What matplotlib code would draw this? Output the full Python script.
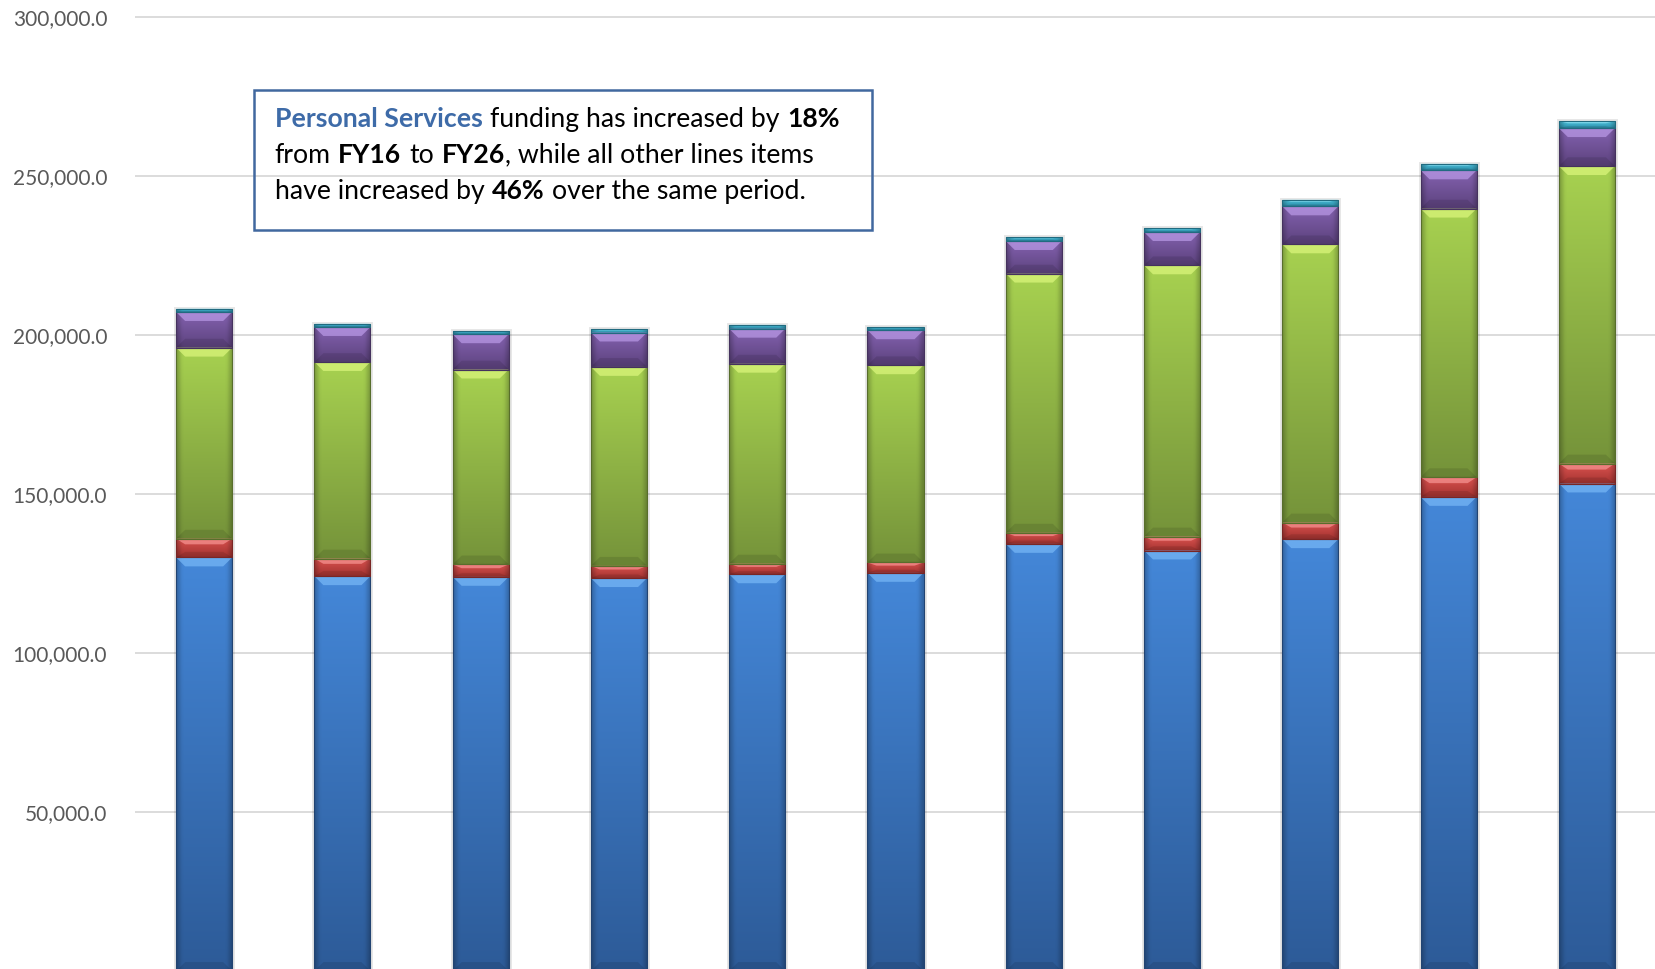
import numpy as np
import matplotlib
matplotlib.use("agg")
import matplotlib.pyplot as plt
from matplotlib.patches import Rectangle, Polygon
from matplotlib.colors import to_rgb
from matplotlib.offsetbox import TextArea, HPacker, AnnotationBbox

# fiscal years FY16 .. FY26 (axis labels are cut off in the source picture)
years = ["FY16", "FY17", "FY18", "FY19", "FY20", "FY21",
         "FY22", "FY23", "FY24", "FY25", "FY26"]

personal_services = [130000, 124100, 123900, 123500, 124700, 125150,
                     134260, 132180, 135730, 149030, 153240]
red_items = [5900, 5560, 3900, 3870, 3360, 3270, 3520, 4400, 5250, 6190, 6280]
green_items = [60050, 61770, 61270, 62520, 62840, 61990,
               81440, 85240, 87440, 84430, 93500]
purple_items = [11200, 11000, 11090, 10810, 11000, 11000,
                10240, 10460, 11940, 12030, 11940]
cyan_items = [1070, 1070, 1040, 1040, 1260, 1040, 1260, 1260, 2100, 2100, 2200]

y_ticks = [50000, 100000, 150000, 200000, 250000, 300000]

# (top colour, bottom colour, bevel highlight)
styles = [
    ("#4487D8", "#2D5B98", "#79B9F7"),
    ("#DA524F", "#A33330", "#F79694"),
    ("#A7D150", "#75933A", "#DDF77E"),
    ("#8462B0", "#5C427D", "#BB9BE8"),
    ("#50C4DF", "#2C8FAA", "#95E6F7"),
]
series = [personal_services, red_items, green_items, purple_items, cyan_items]

W, H = 1656, 969
fig = plt.figure(figsize=(W / 100, H / 100), dpi=100)
ax_left, ax_top, ax_bottom = 135, 13.5, 971
ax = fig.add_axes([ax_left / W, (H - ax_bottom) / H, 1 - ax_left / W,
                   (ax_bottom - ax_top) / H])

x = np.arange(len(years))
width = 0.405
bevel_y = 2800
bevel_x = 0.065


def gradient(top, bot):
    t = np.linspace(0, 1, 64)[:, None, None]
    u = np.linspace(-1, 1, 24)[None, :, None]
    img = np.array(to_rgb(top)) * (1 - t) + np.array(to_rgb(bot)) * t
    edge = np.clip((np.abs(u) - 0.8) / 0.2, 0, 1)
    img = img * (1 - 0.22 * edge)
    return np.clip(img, 0, 1)


bottoms = np.zeros(len(years))
for vals, (top, bot, hi) in zip(series, styles):
    vals = np.array(vals, dtype=float)
    bars = ax.bar(x, vals, width, bottom=bottoms, color=bot, linewidth=0, zorder=2)
    img = gradient(top, bot)
    for r in bars:
        x0, b, w, h = r.get_x(), r.get_y(), r.get_width(), r.get_height()
        im = ax.imshow(img, extent=(x0, x0 + w, b, b + h), origin="upper",
                       aspect="auto", interpolation="bilinear", zorder=2.2)
        im.set_clip_path(r)
        bh = min(bevel_y, 0.3 * h)
        ax.add_patch(Polygon([(x0, b + h), (x0 + w, b + h), (x0 + w - bevel_x, b + h - bh),
                              (x0 + bevel_x, b + h - bh)], closed=True,
                             facecolor=hi, edgecolor="none", alpha=0.7, zorder=2.4))
        ax.add_patch(Polygon([(x0, b), (x0 + w, b), (x0 + w - bevel_x, b + bh),
                              (x0 + bevel_x, b + bh)], closed=True,
                             facecolor="black", edgecolor="none", alpha=0.1, zorder=2.4))
        ax.add_patch(Rectangle((x0, b), w, h, fill=False,
                               edgecolor=tuple(c * 0.75 for c in to_rgb(bot)),
                               linewidth=0.8, zorder=2.6))
    bottoms = bottoms + vals

# soft shadow around each whole bar
for xi, tot in zip(x, bottoms):
    ax.add_patch(Rectangle((xi - width / 2, 0), width, tot, fill=False,
                           edgecolor=(0, 0, 0, 0.10), linewidth=3.5, zorder=1.5))

ax.set_xlim(-0.5, len(years) - 0.5)
ax.set_ylim(0, 301000)
ax.set_yticks(y_ticks)
ax.set_yticklabels([f"{v:,.1f}" for v in y_ticks], fontfamily="Lato",
                   fontsize=15, color="#595959")
ax.set_xticks([])
ax.tick_params(axis="y", length=0, pad=20)
ax.grid(axis="y", color="#D9D9D9", linewidth=1.3, zorder=0)
ax.set_axisbelow(True)
for s in ax.spines.values():
    s.set_visible(False)

# annotation box
fig.patches.append(Rectangle((254.5 / W, (H - 230.2) / H), 617.8 / W, 140.4 / H,
                             transform=fig.transFigure, fill=False,
                             edgecolor="#41689F", linewidth=1.8, zorder=5))

fs = 19.2
normal = dict(fontfamily="Lato", fontsize=fs, color="black")
bold = dict(fontfamily="Lato", fontsize=fs, color="black", fontweight="bold")
blue_bold = dict(fontfamily="Lato", fontsize=fs, color="#3E6BA8", fontweight="bold")
sp = 5.5


def line(parts):
    return HPacker(children=parts, sep=sp, pad=0, align="baseline")


lines = [
    line([TextArea("Personal Services", textprops=blue_bold),
          TextArea("funding has increased by", textprops=normal),
          TextArea("18%", textprops=bold)]),
    line([TextArea("from", textprops=normal),
          TextArea("FY16", textprops=bold),
          TextArea("to", textprops=normal),
          HPacker(children=[TextArea("FY26", textprops=bold),
                            TextArea(", while all other lines items", textprops=normal)],
                  sep=0, pad=0, align="baseline")]),
    line([TextArea("have increased by", textprops=normal),
          TextArea("46%", textprops=bold),
          TextArea("over the same period.", textprops=normal)]),
]
for ln, yc in zip(lines, [119.3, 155.2, 191.2]):
    ab = AnnotationBbox(ln, (274.6, H - yc), xycoords="figure pixels",
                        box_alignment=(0, 0.5), frameon=False, pad=0,
                        annotation_clip=False, zorder=6)
    fig.add_artist(ab)

fig.savefig("out.png", dpi=100)
